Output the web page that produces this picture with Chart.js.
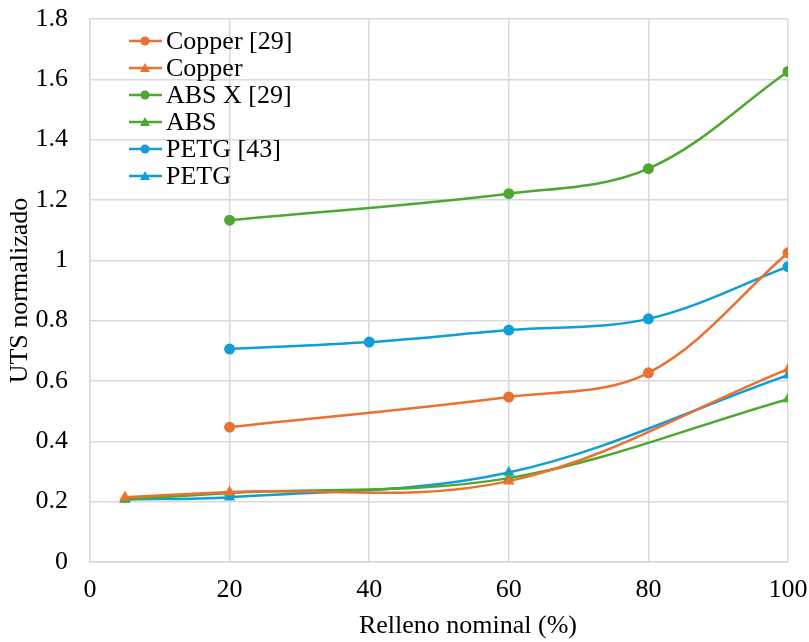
<!DOCTYPE html>
<html>
<head>
<meta charset="utf-8">
<script src="https://cdn.jsdelivr.net/npm/chart.js@4"></script>
<style>
  html, body { margin: 0; padding: 0; background: #fff; }
  #wrap { width: 809px; height: 642px; }
</style>
</head>
<body>
<div id="wrap"><canvas id="Chart" width="809" height="642"></canvas></div>
<script>
// relleno nominal (%) and normalized UTS
const copper29_x = [20, 60, 80, 100]
const copper29_y = [0.447, 0.547, 0.627, 1.025]
const copper_x = [5, 20, 60, 100]
const copper_y = [0.215, 0.232, 0.268, 0.639]
const absx29_x = [20, 60, 80, 100]
const absx29_y = [1.133, 1.221, 1.304, 1.626]
const abs_x = [5, 20, 60, 100]
const abs_y = [0.207, 0.229, 0.278, 0.540]
const petg43_x = [20, 40, 60, 80, 100]
const petg43_y = [0.706, 0.729, 0.769, 0.806, 0.979]
const petg_x = [5, 20, 60, 100]
const petg_y = [0.208, 0.215, 0.297, 0.619]

const x_ticks = [0, 20, 40, 60, 80, 100]
const y_ticks = [0, 0.2, 0.4, 0.6, 0.8, 1, 1.2, 1.4, 1.6, 1.8]

const ORANGE = '#E97132'
const GREEN = '#4EA72E'
const BLUE = '#0F9ED5'
const FONT = "'Liberation Serif', 'Times New Roman', serif"

function pts(xs, ys) {
    return xs.map((x, i) => ({ x: x, y: ys[i] }))
}

function series(label, xs, ys, color, marker) {
    return {
        label: label,
        data: pts(xs, ys),
        borderColor: color,
        backgroundColor: color,
        borderWidth: 2.5,
        pointStyle: marker,
        pointRadius: marker === 'triangle' ? 6.5 : 5.5,
        pointBorderWidth: 0,
        tension: 0.35,
        showLine: true,
    }
}

// legend sits inside the plot, top-left
const insideLegend = {
    id: 'insideLegend',
    afterDraw(chart) {
        const ctx = chart.ctx
        ctx.save()
        chart.data.datasets.forEach((ds, i) => {
            const y = 41 + i * 27
            ctx.strokeStyle = ds.borderColor
            ctx.lineWidth = 2.5
            ctx.beginPath()
            ctx.moveTo(129, y)
            ctx.lineTo(162, y)
            ctx.stroke()
            ctx.fillStyle = ds.borderColor
            ctx.beginPath()
            if (ds.pointStyle === 'triangle') {
                ctx.moveTo(145, y - 5)
                ctx.lineTo(150, y + 4)
                ctx.lineTo(140, y + 4)
                ctx.closePath()
            } else {
                ctx.arc(145, y, 4.5, 0, Math.PI * 2)
            }
            ctx.fill()
            ctx.fillStyle = '#000'
            ctx.font = '26px ' + FONT
            ctx.textBaseline = 'middle'
            ctx.textAlign = 'left'
            ctx.fillText(ds.label, 166, y + 1)
        })
        // x axis title
        ctx.font = '26px ' + FONT
        ctx.textAlign = 'center'
        ctx.textBaseline = 'middle'
        ctx.fillText('Relleno nominal (%)', 468, 626)
        ctx.restore()
    }
}

const ctx = document.getElementById('Chart')

new Chart(ctx, {
    type: 'line',
    data: {
        datasets: [
            series('Copper [29]', copper29_x, copper29_y, ORANGE, 'circle'),
            series('Copper', copper_x, copper_y, ORANGE, 'triangle'),
            series('ABS X [29]', absx29_x, absx29_y, GREEN, 'circle'),
            series('ABS', abs_x, abs_y, GREEN, 'triangle'),
            series('PETG [43]', petg43_x, petg43_y, BLUE, 'circle'),
            series('PETG', petg_x, petg_y, BLUE, 'triangle'),
        ]
    },
    options: {
        responsive: false,
        animation: false,
        layout: { padding: { top: 19, right: 21, left: 0, bottom: 0 } },
        plugins: {
            legend: { display: false },
            tooltip: { enabled: false },
        },
        scales: {
            x: {
                type: 'linear',
                min: 0,
                max: 100,
                afterBuildTicks: axis => { axis.ticks = x_ticks.map(v => ({ value: v })) },
                afterFit: axis => {
                    axis.height = 80
                    axis.paddingLeft = 0
                    axis.paddingRight = 0
                },
                grid: { color: '#D9D9D9', lineWidth: 1.5, drawTicks: false },
                border: { color: '#D9D9D9', width: 1.5 },
                ticks: {
                    color: '#000',
                    padding: 13,
                    maxRotation: 0,
                    font: { family: FONT, size: 26 },
                },
            },
            y: {
                min: 0,
                max: 1.8,
                afterBuildTicks: axis => { axis.ticks = y_ticks.map(v => ({ value: v })) },
                afterFit: axis => {
                    axis.width = 90
                    axis.paddingTop = 0
                    axis.paddingBottom = 0
                },
                grid: { color: '#D9D9D9', lineWidth: 1.5, drawTicks: false },
                border: { color: '#D9D9D9', width: 1.5 },
                ticks: {
                    color: '#000',
                    padding: 22,
                    callback: v => String(+v.toFixed(1)),
                    font: { family: FONT, size: 26 },
                },
                title: {
                    display: true,
                    text: 'UTS normalizado',
                    color: '#000',
                    padding: { top: 5, bottom: 0 },
                    font: { family: FONT, size: 26 },
                },
            },
        },
    },
    plugins: [insideLegend],
})
</script>
</body>
</html>
